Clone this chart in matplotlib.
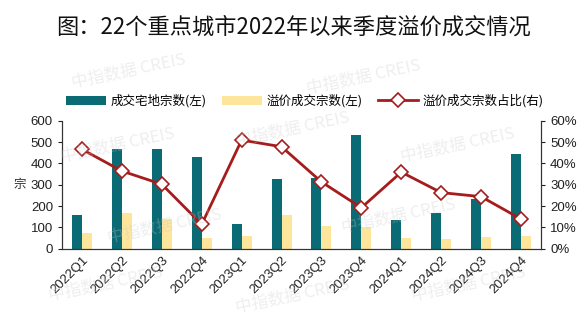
import numpy as np
import matplotlib
matplotlib.use('Agg')
import matplotlib.pyplot as plt
from matplotlib.ticker import FuncFormatter

plt.rcParams['font.family'] = ['Noto Sans CJK SC', 'DejaVu Sans']
num_font = ['Liberation Sans', 'Noto Sans CJK SC']

quarters = ['2022Q1', '2022Q2', '2022Q3', '2022Q4', '2023Q1', '2023Q2',
            '2023Q3', '2023Q4', '2024Q1', '2024Q2', '2024Q3', '2024Q4']
deals = [158, 467, 467, 430, 116, 325, 333, 531, 133, 166, 233, 442]
premium_deals = [75, 169, 139, 48, 61, 158, 108, 103, 48, 44, 56, 61]
premium_ratio = [46.6, 36.4, 30.2, 11.4, 50.9, 47.8, 31.3, 19.2, 35.9, 26.3, 24.4, 13.9]

teal = '#0b6b74'
yellow = '#fde59c'
red = '#a61c1c'

fig = plt.figure(figsize=(5.86, 3.22), dpi=100)
ax = fig.add_axes([62 / 586, 1 - 248.7 / 322, (541 - 62) / 586, (248.7 - 120.7) / 322])
ax2 = ax.twinx()

x = np.arange(len(quarters))
w = 0.25
b1 = ax.bar(x - w / 2, deals, w, color=teal, label='成交宅地宗数(左)', zorder=2)
b2 = ax.bar(x + w / 2, premium_deals, w, color=yellow, label='溢价成交宗数(左)', zorder=2)
l1, = ax2.plot(x, premium_ratio, color=red, lw=2, marker='D', ms=7,
               mfc='white', mec=red, mew=1.2, label='溢价成交宗数占比(右)', zorder=3)

ax.set_xlim(-0.5, len(quarters) - 0.5)
ax.set_ylim(0, 600)
ax.set_yticks(range(0, 601, 100))
ax2.set_ylim(0, 60)
ax2.set_yticks(range(0, 61, 10))
ax2.yaxis.set_major_formatter(FuncFormatter(lambda v, p: '%d%%' % v))

ax.set_xticks(x)
ax.set_xticklabels(quarters, rotation=45, ha='right', rotation_mode='anchor')
ax.tick_params(axis='x', length=0, pad=4, labelsize=9.5, colors='#222222')
ax.tick_params(axis='y', labelsize=9.5, colors='#222222', length=3)
ax2.tick_params(axis='y', labelsize=9.5, colors='#222222', length=3)
for lab in ax.get_xticklabels() + ax.get_yticklabels() + ax2.get_yticklabels():
    lab.set_family(num_font)

for a in (ax, ax2):
    a.spines['top'].set_visible(False)
    for s in ('left', 'right', 'bottom'):
        a.spines[s].set_color('#333333')
        a.spines[s].set_linewidth(0.8)

ax.set_ylabel('宗', rotation=0, fontsize=9, labelpad=8, va='center', color='#333333')

fig.text(0.5, 0.915, '图：22个重点城市2022年以来季度溢价成交情况',
         ha='center', va='center', fontsize=16, color='#111111')

fig.legend([b1, b2, l1], [b1.get_label(), b2.get_label(), l1.get_label()],
           loc='center', bbox_to_anchor=(0.52, 1 - 101 / 322), ncol=3, frameon=False,
           fontsize=9, handlelength=3.2, handleheight=0.8, columnspacing=1.2,
           handletextpad=0.4)

# faint watermarks
for (wx, wy) in [(0.22, 0.78), (0.62, 0.76), (0.2, 0.55), (0.5, 0.6), (0.78, 0.55),
                 (0.28, 0.3), (0.68, 0.33), (0.18, 0.12), (0.5, 0.08), (0.8, 0.12)]:
    fig.text(wx, wy, '中指数据 CREIS', fontsize=12, color='#c8c8c8', alpha=0.3,
             rotation=12, ha='center', va='center', zorder=0)

fig.savefig('out.png', dpi=100)
